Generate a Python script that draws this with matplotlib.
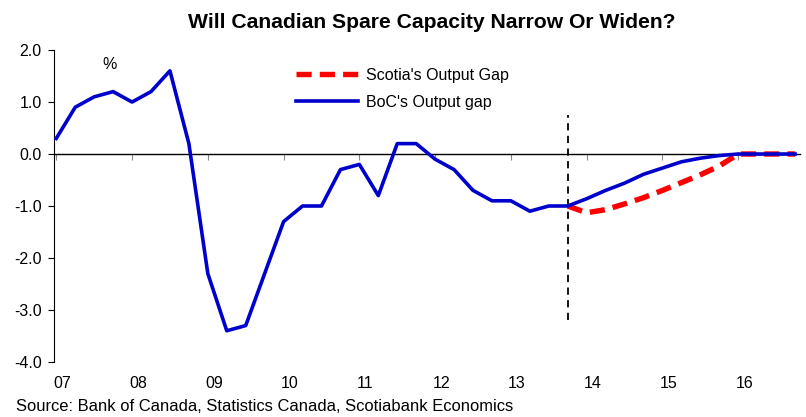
import matplotlib
matplotlib.use("Agg")
import matplotlib.pyplot as plt
import numpy as np

plt.rcParams["font.family"] = ["Liberation Sans", "DejaVu Sans"]

# quarterly, 2007Q1 .. 2016Q4
boc_gap = [0.3, 0.9, 1.1, 1.2, 1.0, 1.2, 1.6, 0.2,
           -2.3, -3.4, -3.3, -2.3, -1.3, -1.0, -1.0, -0.3,
           -0.2, -0.8, 0.2, 0.2, -0.1, -0.3, -0.7, -0.9,
           -0.9, -1.1, -1.0, -1.0, -0.86, -0.7, -0.56, -0.39,
           -0.27, -0.15, -0.08, -0.03, 0.0, 0.0, 0.0, 0.0]
# Scotia forecast, 2013Q4 .. 2016Q4
scotia_gap = [-1.0, -1.13, -1.07, -0.96, -0.84, -0.70, -0.55, -0.40,
              -0.23, 0.0, 0.0, 0.0, 0.0]
year_labels = ["07", "08", "09", "10", "11", "12", "13", "14", "15", "16"]
start_year = 2007
forecast_start = 27  # index of 2013Q4

x_boc = start_year + np.arange(len(boc_gap)) / 4
x_sco = start_year + (forecast_start + np.arange(len(scotia_gap))) / 4

FS = 11.5

fig = plt.figure(figsize=(8.06, 4.17), dpi=100)
ax = fig.add_axes([0.067, 0.132, 0.926, 0.748])

ax.plot(x_sco, scotia_gap, color="#ff0000", lw=3.9, dashes=(2.8, 1.5),
        label="Scotia's Output Gap", zorder=3)
ax.plot(x_boc, boc_gap, color="#0000cc", lw=2.6, label="BoC's Output gap",
        zorder=4)

ax.axvline(x_boc[forecast_start], ymin=(-3.2 + 4) / 6, ymax=(0.75 + 4) / 6,
           color="black", lw=1.3, ls=(0, (4, 3)), zorder=2)

ax.set_xlim(start_year - 0.03, 2016.82)
ax.set_ylim(-4.0, 2.0)
yt = np.arange(-4.0, 2.01, 1.0)
ax.set_yticks(yt)
ax.set_yticklabels([f"{v:.1f}" for v in yt], fontsize=FS)
ax.tick_params(axis="y", direction="out", length=4, width=0.8, pad=5)

ax.spines["top"].set_visible(False)
ax.spines["right"].set_visible(False)
ax.spines["bottom"].set_position(("data", 0))
ax.spines["bottom"].set_linewidth(1.0)
ax.spines["left"].set_linewidth(0.8)
years = start_year + np.arange(len(year_labels))
ax.set_xticks(years)
ax.set_xticklabels([])
ax.tick_params(axis="x", direction="out", length=4, width=0.8, color="#888888")
for yr, lab in zip(years, year_labels):
    ax.text(yr + 0.08, -4.42, lab, ha="center", va="center", fontsize=FS,
            clip_on=False)

ax.text(2007.7, 1.72, "%", fontsize=FS, ha="center", va="center")

ax.legend(loc="upper left", bbox_to_anchor=(0.305, 0.99), frameon=False,
          fontsize=FS, handlelength=3.9, labelspacing=0.75,
          handletextpad=0.5)

fig.text(0.536, 0.947, "Will Canadian Spare Capacity Narrow Or Widen?",
         ha="center", va="center", fontsize=15.2, fontweight="bold")
fig.text(0.02, 0.024, "Source: Bank of Canada, Statistics Canada, Scotiabank Economics",
         ha="left", va="center", fontsize=11.9)

fig.savefig("out.png", dpi=100)
